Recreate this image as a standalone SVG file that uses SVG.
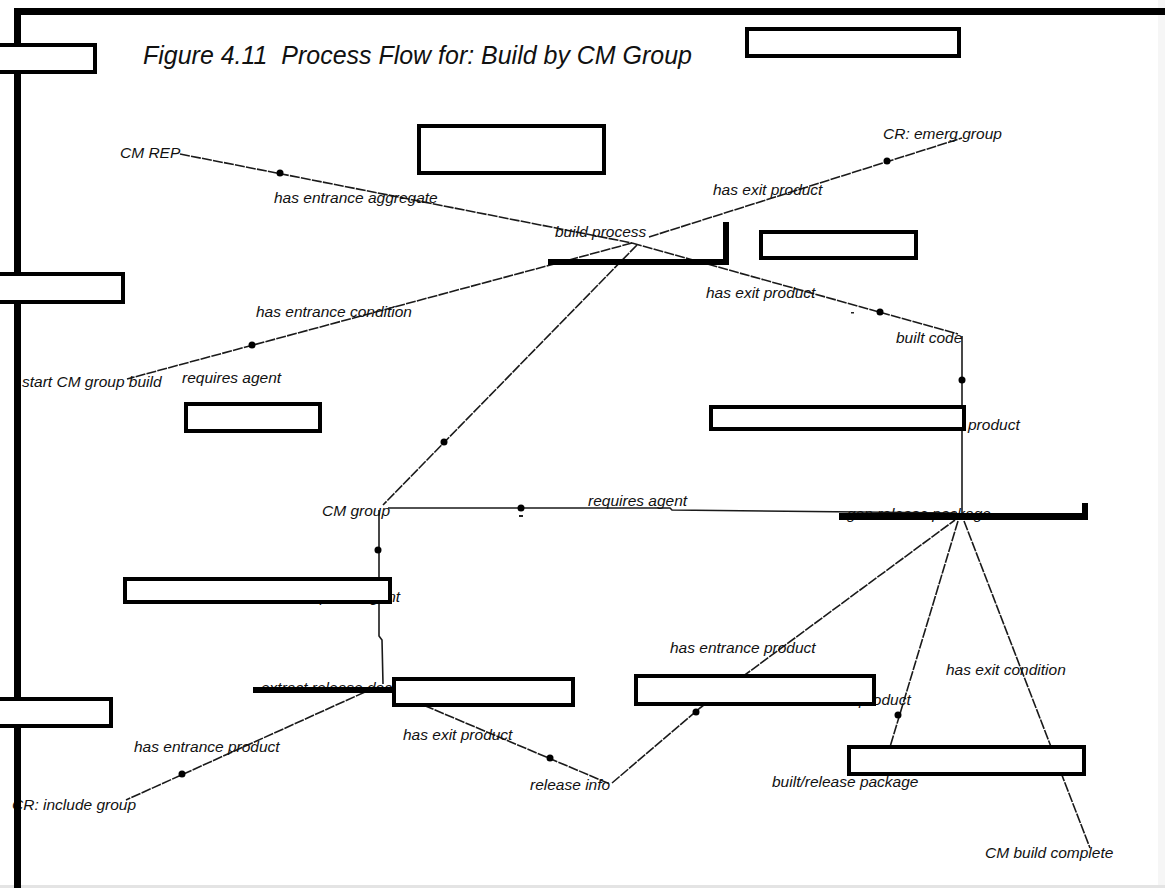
<svg xmlns="http://www.w3.org/2000/svg" width="1165" height="888" viewBox="0 0 1165 888">
<style>
.lbl{font-family:"Liberation Sans",Arial,sans-serif;font-style:italic;font-size:15.5px;fill:#111}
.title{font-family:"Liberation Sans",Arial,sans-serif;font-style:italic;font-size:25px;fill:#111}
.ln{fill:none;stroke:#1a1a1a;stroke-width:1.6}
.dl{fill:none;stroke:#1a1a1a;stroke-width:1.6;stroke-dasharray:10 1.2}
.dot{fill:#000}
.bar{fill:#000}
.box{fill:#fff;stroke:#000;stroke-width:4}
.frame{fill:#000}
</style>
<rect x="0" y="0" width="1165" height="888" fill="#fff"/>
<rect x="1158" y="0" width="7" height="888" fill="#f6f6f6"/>
<rect x="0" y="885" width="1165" height="3" fill="#e4e4e4"/>

<g id="connectors">
  <line class="dl" x1="180" y1="154" x2="632" y2="243"/>
  <circle class="dot" cx="280" cy="173" r="3.5"/>
  <text class="lbl" x="274" y="203">has entrance aggregate</text>

  <line class="dl" x1="649" y1="237" x2="962" y2="138"/>
  <circle class="dot" cx="887" cy="161" r="3.5"/>
  <text class="lbl" x="713" y="195">has exit product</text>

  <line class="dl" x1="632" y1="243" x2="958" y2="334"/>
  <circle class="dot" cx="880" cy="312" r="3.5"/>
  <rect x="851" y="312" width="3" height="1.5" fill="#222"/>
  <text class="lbl" x="706" y="298">has exit product</text>

  <line class="dl" x1="632" y1="243" x2="127" y2="379"/>
  <circle class="dot" cx="252" cy="345" r="3.5"/>
  <text class="lbl" x="256" y="317">has entrance condition</text>
  <text class="lbl" x="182" y="383">requires agent</text>

  <line class="dl" x1="637" y1="245" x2="383" y2="505"/>
  <circle class="dot" cx="444" cy="442" r="3.5"/>

  <polyline class="ln" points="388,508 670,508 672,510 955,513"/>
  <circle class="dot" cx="521" cy="508" r="3.5"/>
  <rect x="519" y="515" width="4" height="2" fill="#222"/>
  <text class="lbl" x="588" y="506">requires agent</text>

  <line class="ln" x1="962" y1="336" x2="962" y2="515"/>
  <circle class="dot" cx="962" cy="380" r="3.5"/>
  <text class="lbl" x="968" y="430">product</text>

  <polyline class="ln" points="379,510 379,636 382,640 383,684"/>
  <circle class="dot" cx="378" cy="550" r="3.5"/>
  <text class="lbl" x="301" y="602">requires agent</text>

  <line class="dl" x1="365" y1="692" x2="126" y2="800"/>
  <circle class="dot" cx="182" cy="774" r="3.5"/>
  <text class="lbl" x="134" y="752">has entrance product</text>

  <line class="dl" x1="383" y1="688" x2="610" y2="784"/>
  <circle class="dot" cx="550" cy="758" r="3.5"/>
  <text class="lbl" x="403" y="740">has exit product</text>

  <polyline class="dl" points="612,783 700,708 955,520"/>
  <circle class="dot" cx="696" cy="712" r="3.5"/>
  <text class="lbl" x="670" y="653">has entrance product</text>

  <line class="dl" x1="958" y1="521" x2="890" y2="747"/>
  <circle class="dot" cx="898" cy="715" r="3.5"/>
  <text class="lbl" x="859" y="705">product</text>

  <line class="dl" x1="964" y1="521" x2="1090" y2="848"/>
  <text class="lbl" x="946" y="675">has exit condition</text>
</g>

<g id="node-cm-rep"><text class="lbl" x="120" y="158">CM REP</text></g>
<g id="node-build-process">
  <text class="lbl" x="555" y="237">build process</text>
  <rect class="bar" x="548" y="259" width="181" height="6"/>
  <rect class="bar" x="723" y="222" width="6" height="43"/>
</g>
<g id="node-cr-emerg-group"><text class="lbl" x="883" y="139">CR: emerg group</text></g>
<g id="node-built-code"><text class="lbl" x="896" y="343">built code</text></g>
<g id="node-start-cm-group-build"><text class="lbl" x="22" y="387">start CM group build</text></g>
<g id="node-cm-group"><text class="lbl" x="322" y="516">CM group</text></g>
<g id="node-gen-release-package">
  <text class="lbl" x="847" y="519">gen release package</text>
  <rect class="bar" x="839" y="513" width="249" height="7"/>
  <rect class="bar" x="1082" y="503" width="6" height="17"/>
</g>
<g id="node-extract-release-doc">
  <text class="lbl" x="261" y="693">extract release doc</text>
  <rect class="bar" x="253" y="687" width="139" height="6"/>
</g>
<g id="node-cr-include-group"><text class="lbl" x="12" y="810">CR: include group</text></g>
<g id="node-release-info"><text class="lbl" x="530" y="790">release info</text></g>
<g id="node-built-release-package"><text class="lbl" x="772" y="787">built/release package</text></g>
<g id="node-cm-build-complete"><text class="lbl" x="985" y="858">CM build complete</text></g>

<g id="frame">
  <rect class="frame" x="14" y="8" width="1151" height="7"/>
  <rect class="frame" x="14" y="8" width="7" height="880"/>
  <text class="title" x="143" y="64" textLength="549" lengthAdjust="spacingAndGlyphs">Figure 4.11&#160; Process Flow for: Build by CM Group</text>
</g>

<g id="boxes">
  <rect class="box" x="-10" y="45" width="105" height="27"/>
  <rect class="box" x="-10" y="274" width="133" height="28"/>
  <rect class="box" x="-10" y="699" width="121" height="27"/>
  <rect class="box" x="747" y="29" width="212" height="27"/>
  <rect class="box" x="419" y="126" width="185" height="47"/>
  <rect class="box" x="761" y="232" width="155" height="26"/>
  <rect class="box" x="186" y="404" width="134" height="27"/>
  <rect class="box" x="711" y="407" width="253" height="22"/>
  <rect class="box" x="125" y="579" width="265" height="23"/>
  <rect class="box" x="394" y="679" width="179" height="26"/>
  <rect class="box" x="636" y="676" width="238" height="28"/>
  <rect class="box" x="849" y="747" width="235" height="27"/>
</g>
</svg>
